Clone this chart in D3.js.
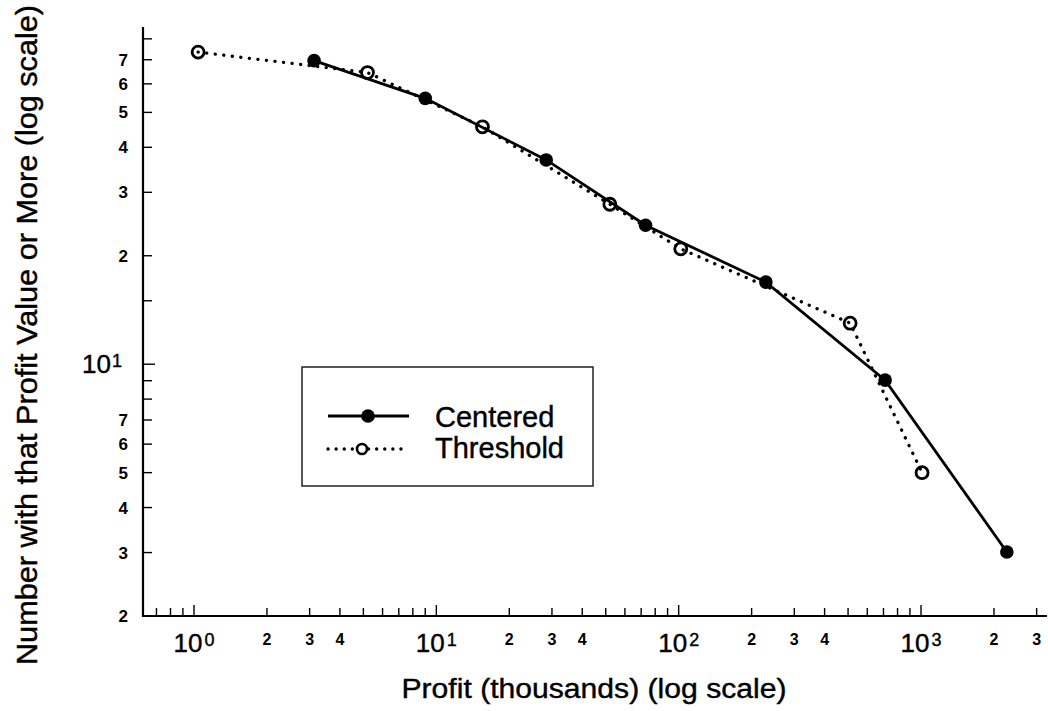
<!DOCTYPE html>
<html lang="en">
<head>
<meta charset="utf-8">
<title>Profit (log scale)</title>
<script src="https://d3js.org/d3.v7.min.js"></script>
<style>
  body { margin: 0; background: #fff; }
  svg { display: block; font-family: "Liberation Sans", Arial, sans-serif; }
  .small { font-weight: bold; font-size: 16px; }
  .big { font-size: 26px; }
  .title { stroke: #000; stroke-width: 0.4px; }
</style>
</head>
<body>
<script>
// values
const centeredProfit  = [3.13, 9.0, 28.4, 73, 229, 711, 2260];
const centeredCount   = [69.6, 54.7, 36.9, 24.3, 16.9, 9.03, 3.01];
const thresholdProfit = [1.04, 5.2, 15.5, 52, 102, 510, 1010];
const thresholdCount  = [73.5, 64.5, 45.6, 27.8, 20.9, 13.0, 5.0];

const seriesNames = ["Centered", "Threshold"];

// tick labels
const xLabelValues = [1, 2, 3, 4, 10, 20, 30, 40, 100, 200, 300, 400, 1000, 2000, 3000];
const yLabelValues = [2, 3, 4, 5, 6, 7, 10, 20, 30, 40, 50, 60, 70];
const yExtraTicks  = [15];

const w = 1048, h = 711;
const svg = d3.select("body").append("svg")
    .attr("width", w)
    .attr("height", h);

const xScale = d3.scaleLog().domain([0.616, 3310]).range([143, 1047]);
const yScale = d3.scaleLog().domain([2, 86.3]).range([616, 27]);

const isDecade = v => Math.abs(Math.log10(v) - Math.round(Math.log10(v))) < 1e-9;
const leadDigit = v => String(Math.round(v / Math.pow(10, Math.floor(Math.log10(v) + 1e-9))));

// axis lines
svg.append("path")
    .attr("d", `M${xScale.range()[0]},${yScale.range()[1]}V${yScale.range()[0]}H${xScale.range()[1]}`)
    .attr("fill", "none")
    .attr("stroke", "#000")
    .attr("stroke-width", 2.2);

// x ticks (pointing up)
const x0 = yScale.range()[0];
svg.append("g").selectAll("line")
    .data(xScale.ticks())
    .join("line")
    .attr("x1", d => xScale(d)).attr("x2", d => xScale(d))
    .attr("y1", x0).attr("y2", d => x0 - (isDecade(d) ? 11 : 8))
    .attr("stroke", "#000").attr("stroke-width", 1.4);

// y ticks (pointing right)
const y0 = xScale.range()[0];
svg.append("g").selectAll("line")
    .data(yScale.ticks().concat(yExtraTicks))
    .join("line")
    .attr("y1", d => yScale(d)).attr("y2", d => yScale(d))
    .attr("x1", y0).attr("x2", d => y0 + (isDecade(d) ? 12 : 9))
    .attr("stroke", "#000").attr("stroke-width", 1.4);

// x labels
const xl = svg.append("g").selectAll("text")
    .data(xLabelValues)
    .join("text")
    .attr("text-anchor", "middle")
    .attr("x", d => xScale(d));
xl.filter(d => !isDecade(d))
    .attr("class", "small")
    .attr("y", 645)
    .text(leadDigit);
xl.filter(isDecade).each(function(d) {
    const t = d3.select(this).attr("class", "big title").attr("y", 652);
    t.append("tspan").text("10");
    t.append("tspan").attr("font-size", 18).attr("dx", 2).attr("dy", -6)
        .text(Math.round(Math.log10(d)));
});

// y labels
const yl = svg.append("g").selectAll("text")
    .data(yLabelValues)
    .join("text")
    .attr("text-anchor", "end");
yl.filter(d => !isDecade(d))
    .attr("class", "small")
    .style("font-size", "17px")
    .attr("x", 128)
    .attr("y", d => yScale(d) + 6)
    .text(leadDigit);
yl.filter(isDecade).each(function(d) {
    const t = d3.select(this).attr("class", "big title").attr("x", 122).attr("y", yScale(d) + 9);
    t.append("tspan").text("10");
    t.append("tspan").attr("font-size", 18).attr("dx", 1).attr("dy", -6)
        .text(Math.round(Math.log10(d)));
});

// axis titles
svg.append("text")
    .attr("class", "title")
    .attr("x", 594).attr("y", 698)
    .attr("text-anchor", "middle")
    .attr("font-size", 27)
    .attr("textLength", 385).attr("lengthAdjust", "spacingAndGlyphs")
    .text("Profit (thousands) (log scale)");

svg.append("text")
    .attr("class", "title")
    .attr("transform", "translate(37,335) rotate(-90)")
    .attr("text-anchor", "middle")
    .attr("font-size", 30)
    .attr("textLength", 660).attr("lengthAdjust", "spacingAndGlyphs")
    .text("Number with that Profit Value or More (log scale)");

// series
const centered = centeredProfit.map((p, i) => [p, centeredCount[i]]);
const threshold = thresholdProfit.map((p, i) => [p, thresholdCount[i]]);

const line = d3.line()
    .x(d => xScale(d[0]))
    .y(d => yScale(d[1]));

svg.append("path")
    .datum(threshold)
    .attr("d", line)
    .attr("fill", "none")
    .attr("stroke", "#000")
    .attr("stroke-width", 3.3)
    .attr("stroke-linecap", "round")
    .attr("stroke-dasharray", "0.1 8.5");

svg.append("path")
    .datum(centered)
    .attr("d", line)
    .attr("fill", "none")
    .attr("stroke", "#000")
    .attr("stroke-width", 2.8);

svg.append("g").selectAll("circle")
    .data(threshold)
    .join("circle")
    .attr("cx", d => xScale(d[0]))
    .attr("cy", d => yScale(d[1]))
    .attr("r", 6)
    .attr("fill", "none")
    .attr("stroke", "#000")
    .attr("stroke-width", 2.8);

svg.append("g").selectAll("circle")
    .data(centered)
    .join("circle")
    .attr("cx", d => xScale(d[0]))
    .attr("cy", d => yScale(d[1]))
    .attr("r", 6.8)
    .attr("fill", "#000");

// legend
const lg = svg.append("g").attr("transform", "translate(302,367)");
lg.append("rect")
    .attr("width", 291).attr("height", 119)
    .attr("fill", "none")
    .attr("stroke", "#222")
    .attr("stroke-width", 1.5);

lg.append("line")
    .attr("x1", 26).attr("x2", 107).attr("y1", 49).attr("y2", 49)
    .attr("stroke", "#000").attr("stroke-width", 2.8);
lg.append("circle")
    .attr("cx", 66).attr("cy", 49).attr("r", 6.8).attr("fill", "#000");

lg.append("line")
    .attr("x1", 26).attr("x2", 101).attr("y1", 82).attr("y2", 82)
    .attr("stroke", "#000").attr("stroke-width", 3.3)
    .attr("stroke-linecap", "round").attr("stroke-dasharray", "0.1 8");
lg.append("circle")
    .attr("cx", 60).attr("cy", 82).attr("r", 5)
    .attr("fill", "#fff").attr("stroke", "#000").attr("stroke-width", 2.6);

lg.selectAll("text.lbl")
    .data(seriesNames)
    .join("text")
    .attr("class", "lbl title")
    .attr("x", 133)
    .attr("y", (d, i) => 60 + i * 31)
    .attr("font-size", 29)
    .text(d => d);
</script>
</body>
</html>
